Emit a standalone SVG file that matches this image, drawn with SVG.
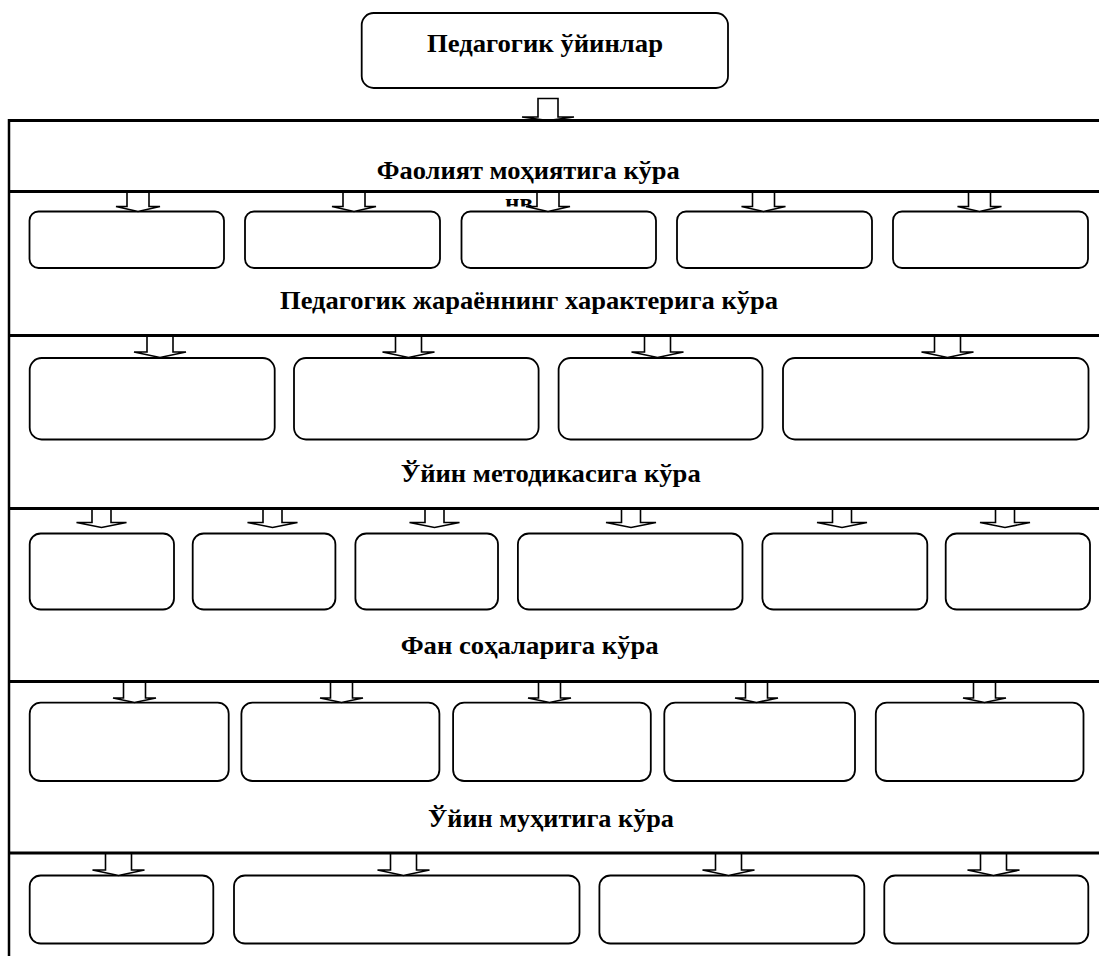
<svg xmlns="http://www.w3.org/2000/svg" width="1099" height="956" viewBox="0 0 1099 956">
<style>
.box{fill:#fff;stroke:#000;stroke-width:1.8}
.arr{fill:#fff;stroke:#000;stroke-width:1.6;stroke-linejoin:miter}
.frame{fill:none;stroke:#000;stroke-width:3}
.lbl{font-family:"Liberation Serif","Times New Roman",serif;font-weight:bold;font-size:25px;fill:#000;text-anchor:middle}
</style>
<defs>
<clipPath id="clipNv"><rect x="490" y="190" width="60" height="16.5"/></clipPath>
</defs>
<rect width="1099" height="956" fill="#fff"/>
<g id="node-root">
<rect class="box" x="361.7" y="13" width="366.3" height="75" rx="12"/>
<text class="lbl" x="545" y="52" textLength="236" lengthAdjust="spacingAndGlyphs">Педагогик ўйинлар</text>
</g>
<g id="labels">
<text class="lbl" x="528.3" y="179" textLength="303" lengthAdjust="spacingAndGlyphs">Фаолият моҳиятига кўра</text>
<text class="lbl" x="519" y="211" clip-path="url(#clipNv)" textLength="28" lengthAdjust="spacingAndGlyphs">нв</text>
<text class="lbl" x="529" y="309" textLength="498" lengthAdjust="spacingAndGlyphs">Педагогик жараённинг характерига кўра</text>
<text class="lbl" x="550.7" y="481.5" textLength="300" lengthAdjust="spacingAndGlyphs">Ўйин методикасига кўра</text>
<text class="lbl" x="529.7" y="654" textLength="258" lengthAdjust="spacingAndGlyphs">Фан соҳаларига кўра</text>
<text class="lbl" x="551" y="827" textLength="246" lengthAdjust="spacingAndGlyphs">Ўйин муҳитига кўра</text>
</g>
<g id="row1">
<g id="r1n1"><rect class="box" x="29.5" y="211.5" width="194.5" height="56.5" rx="9"/></g>
<g id="r1n2"><rect class="box" x="245" y="211.5" width="195" height="56.5" rx="9"/></g>
<g id="r1n3"><rect class="box" x="461.5" y="211.5" width="194.5" height="56.5" rx="9"/></g>
<g id="r1n4"><rect class="box" x="677" y="211.5" width="195" height="56.5" rx="9"/></g>
<g id="r1n5"><rect class="box" x="893" y="211.5" width="195" height="56.5" rx="9"/></g>
</g>
<g id="row2">
<g id="r2n1"><rect class="box" x="29.7" y="358" width="245" height="81.5" rx="12"/></g>
<g id="r2n2"><rect class="box" x="294" y="358" width="244.6" height="81.5" rx="12"/></g>
<g id="r2n3"><rect class="box" x="558.6" y="358" width="203.9" height="81.5" rx="12"/></g>
<g id="r2n4"><rect class="box" x="783" y="358" width="305.5" height="81.5" rx="12"/></g>
</g>
<g id="row3">
<g id="r3n1"><rect class="box" x="29.7" y="533.5" width="144.3" height="76" rx="11"/></g>
<g id="r3n2"><rect class="box" x="192.7" y="533.5" width="142.7" height="76" rx="11"/></g>
<g id="r3n3"><rect class="box" x="355.4" y="533.5" width="142.6" height="76" rx="11"/></g>
<g id="r3n4"><rect class="box" x="517.9" y="533.5" width="224.6" height="76" rx="11"/></g>
<g id="r3n5"><rect class="box" x="762.4" y="533.5" width="164.9" height="76" rx="11"/></g>
<g id="r3n6"><rect class="box" x="945.7" y="533.5" width="144.3" height="76" rx="11"/></g>
</g>
<g id="row4">
<g id="r4n1"><rect class="box" x="29.7" y="702.7" width="199" height="78.3" rx="11"/></g>
<g id="r4n2"><rect class="box" x="241.4" y="702.7" width="198" height="78.3" rx="11"/></g>
<g id="r4n3"><rect class="box" x="453.1" y="702.7" width="197.7" height="78.3" rx="11"/></g>
<g id="r4n4"><rect class="box" x="664.3" y="702.7" width="190.7" height="78.3" rx="11"/></g>
<g id="r4n5"><rect class="box" x="875.8" y="702.7" width="207.7" height="78.3" rx="11"/></g>
</g>
<g id="row5">
<g id="r5n1"><rect class="box" x="29.7" y="875.5" width="183.6" height="68" rx="11"/></g>
<g id="r5n2"><rect class="box" x="234" y="875.5" width="345.5" height="68" rx="11"/></g>
<g id="r5n3"><rect class="box" x="599.4" y="875.5" width="264.9" height="68" rx="11"/></g>
<g id="r5n4"><rect class="box" x="884.3" y="875.5" width="204" height="68" rx="11"/></g>
</g>
<g id="connectors">
<path class="arr" d="M538,98.5 V117 H522 L548,120.5 L574,117 H558 V98.5 Z"/>
<path class="arr" d="M127,191.5 V206.5 H116 L138,211.5 L160,206.5 H149 V191.5 Z"/>
<path class="arr" d="M343,191.5 V206.5 H332 L354,211.5 L376,206.5 H365 V191.5 Z"/>
<path class="arr" d="M537,191.5 V206.5 H526 L548,211.5 L570,206.5 H559 V191.5 Z"/>
<path class="arr" d="M752.5,191.5 V206.5 H741.5 L763.5,211.5 L785.5,206.5 H774.5 V191.5 Z"/>
<path class="arr" d="M968.5,191.5 V206.5 H957.5 L979.5,211.5 L1001.5,206.5 H990.5 V191.5 Z"/>
<path class="arr" d="M147,336 V352 H134 L160,357.5 L186,352 H173 V336 Z"/>
<path class="arr" d="M395.5,336 V352 H382.5 L408.5,357.5 L434.5,352 H421.5 V336 Z"/>
<path class="arr" d="M644.5,336 V352 H631.5 L657.5,357.5 L683.5,352 H670.5 V336 Z"/>
<path class="arr" d="M934.5,336 V352 H921.5 L947.5,357.5 L973.5,352 H960.5 V336 Z"/>
<path class="arr" d="M92,509 V522.5 H76.5 L101.5,527.5 L126.5,522.5 H111 V509 Z"/>
<path class="arr" d="M263,509 V522.5 H247.5 L272.5,527.5 L297.5,522.5 H282 V509 Z"/>
<path class="arr" d="M425,509 V522.5 H409.5 L434.5,527.5 L459.5,522.5 H444 V509 Z"/>
<path class="arr" d="M621.5,509 V522.5 H606 L631,527.5 L656,522.5 H640.5 V509 Z"/>
<path class="arr" d="M832.5,509 V522.5 H817 L842,527.5 L867,522.5 H851.5 V509 Z"/>
<path class="arr" d="M995.5,509 V522.5 H980 L1005,527.5 L1030,522.5 H1014.5 V509 Z"/>
<path class="arr" d="M123.5,682 V698 H113 L134.5,702.5 L156,698 H145.5 V682 Z"/>
<path class="arr" d="M330.5,682 V698 H320 L341.5,702.5 L363,698 H352.5 V682 Z"/>
<path class="arr" d="M538.5,682 V698 H528 L549.5,702.5 L571,698 H560.5 V682 Z"/>
<path class="arr" d="M745.5,682 V698 H735 L756.5,702.5 L778,698 H767.5 V682 Z"/>
<path class="arr" d="M973.5,682 V698 H963 L984.5,702.5 L1006,698 H995.5 V682 Z"/>
<path class="arr" d="M105.5,853 V870 H92.5 L118.5,875.5 L144.5,870 H131.5 V853 Z"/>
<path class="arr" d="M390.5,853 V870 H377.5 L403.5,875.5 L429.5,870 H416.5 V853 Z"/>
<path class="arr" d="M715.5,853 V870 H702.5 L728.5,875.5 L754.5,870 H741.5 V853 Z"/>
<path class="arr" d="M980.5,853 V870 H967.5 L993.5,875.5 L1019.5,870 H1006.5 V853 Z"/>
</g>
<g id="frame">
<path class="frame" d="M9,120.5 H1100 M9,191.5 H1100 M9,335.5 H1100 M9,508.5 H1100 M9,681.5 H1100 M9,853 H1100"/>
<path class="frame" style="stroke-width:2.5" d="M9,119 V956"/>
</g>
</svg>
